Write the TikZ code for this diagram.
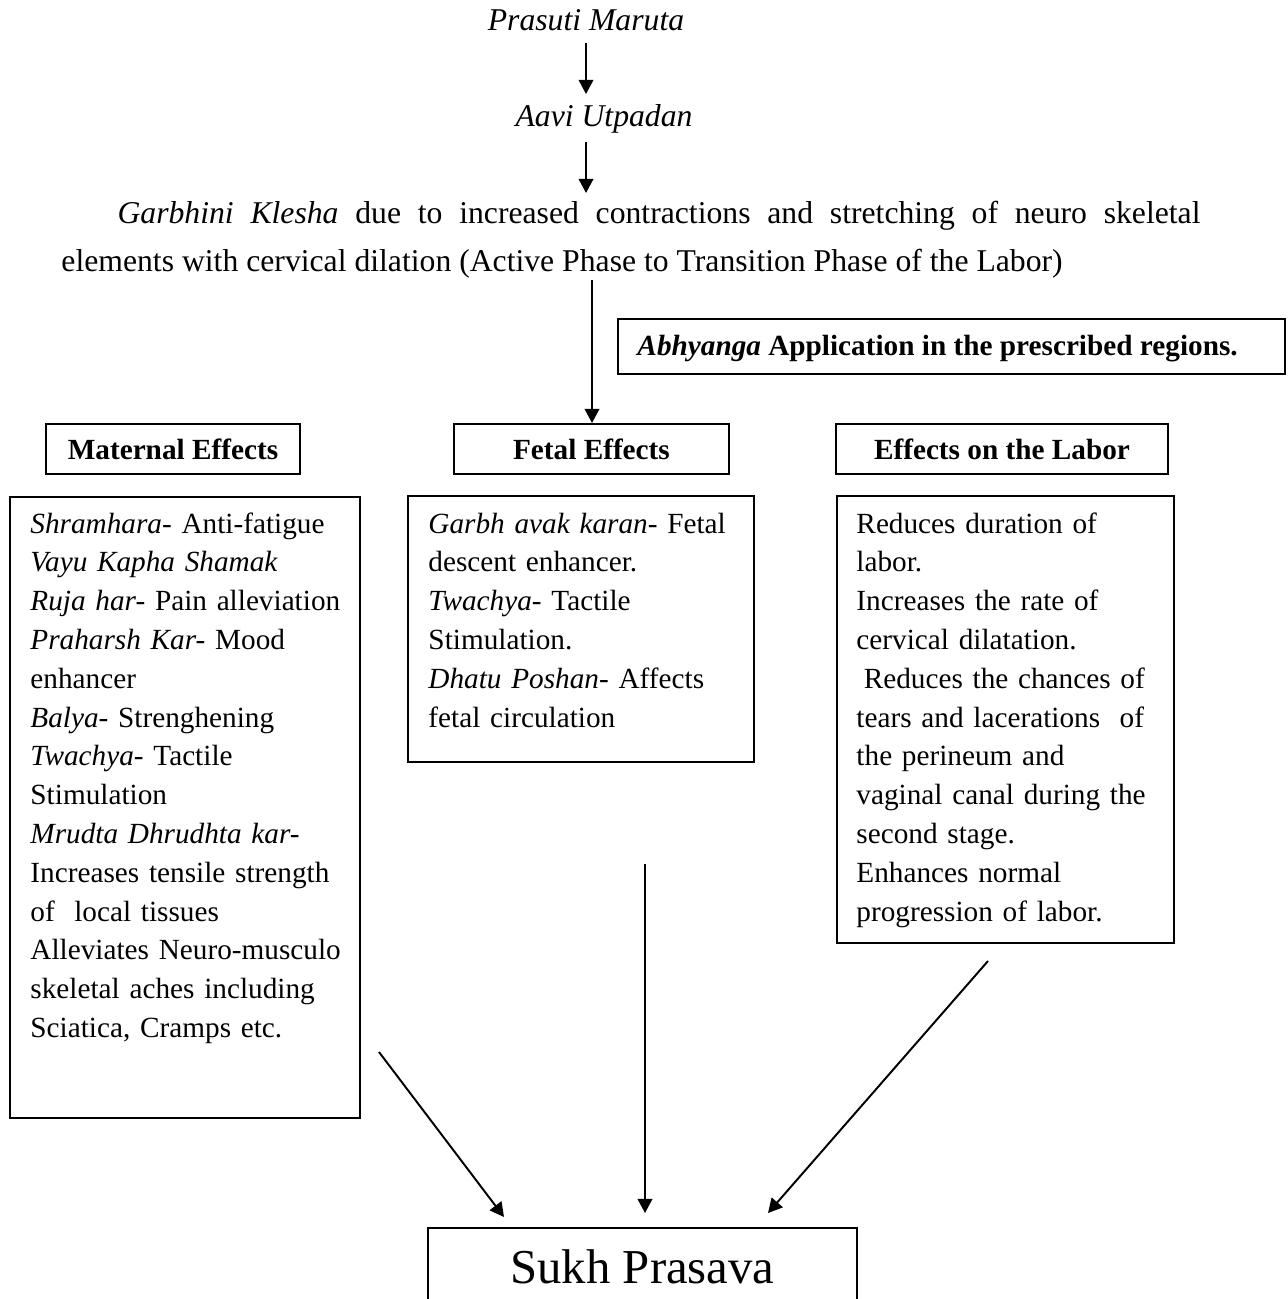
\documentclass[tikz,border=0pt]{standalone}
\usepackage{fontspec}
\setmainfont{Liberation Serif}
\usetikzlibrary{arrows.meta}
\begin{document}
\begin{tikzpicture}[x=0.41026pt,y=-0.41026pt,
  arr/.style={line width=0.8pt,-{Triangle[length=5.8pt,width=6pt]}},
  boxline/.style={draw,line width=0.8pt,inner sep=0pt},
  body/.style={font=\fontsize{12}{15.92}\selectfont, inner sep=0pt, align=left, text width=150pt, anchor=base west},
  headbox/.style={boxline, font=\fontsize{12}{14}\selectfont\bfseries, minimum height=20.5pt, anchor=north west},
  toptext/.style={font=\fontsize{13}{15.6}\selectfont\itshape, inner sep=0pt, anchor=base}]
\useasboundingbox (0,0) rectangle (1287,1299);
\clip (0,0) rectangle (1287,1299);
\fill[white] (0,0) rectangle (1287,1299);

% top chain
\node[toptext] (prasuti) at (586,31) {Prasuti Maruta};
\node[toptext] (aavi) at (604,127) {Aavi Utpadan};
\node[font=\fontsize{13}{19.7}\selectfont, inner sep=0pt, text width=467.3pt, align=justify, anchor=base west] (garb) at (61,223)
  {\hspace*{23pt}\textit{Garbhini Klesha} due to increased contractions and stretching of neuro skeletal\linebreak elements with cervical dilation (Active Phase to Transition Phase of the Labor)};

% Abhyanga box
\node[boxline, anchor=north west, minimum width=273.6pt, minimum height=22.56pt] (abhybox) at (617,318) {};
\node[font=\fontsize{12}{14}\selectfont\bfseries, inner sep=0pt, anchor=base west] (abhytext) at (637,355)
  {\textit{Abhyanga} Application in the prescribed regions.};

% headers
\node[headbox, minimum width=104.2pt] (mathead) at (45,423) {Maternal Effects};
\node[headbox, minimum width=112.8pt] (fethead) at (453,423) {Fetal Effects};
\node[headbox, minimum width=136.2pt] (labhead) at (835,423) {Effects on the Labor};

% content boxes
\node[boxline, anchor=north west, minimum width=143.6pt, minimum height=254.8pt] (matbox) at (9,496) {};
\node[boxline, anchor=north west, minimum width=141.95pt, minimum height=109.1pt] (fetbox) at (407,495) {};
\node[boxline, anchor=north west, minimum width=138.3pt, minimum height=183.4pt] (labbox) at (836,495) {};

\node[body] (mattext) at (30,533) {%
\textit{Shramhara-} Anti-fatigue\\
\textit{Vayu Kapha Shamak}\\
\textit{Ruja har-} Pain alleviation\\
\textit{Praharsh Kar-} Mood\\
enhancer\\
\textit{Balya-} Strenghening\\
\textit{Twachya-} Tactile\\
Stimulation\\
\textit{Mrudta Dhrudhta kar-}\\
Increases tensile strength\\
of\ \ local tissues\\
Alleviates Neuro-musculo\\
skeletal aches including\\
Sciatica, Cramps etc.};

\node[body] (fettext) at (428,533) {%
\textit{Garbh avak karan-} Fetal\\
descent enhancer.\\
\textit{Twachya-} Tactile\\
Stimulation.\\
\textit{Dhatu Poshan-} Affects\\
fetal circulation};

\node[body] (labtext) at (856,533) {%
Reduces duration of\\
labor.\\
Increases the rate of\\
cervical dilatation.\\
\hspace*{3pt}Reduces the chances of\\
tears and lacerations\ \ of\\
the perineum and\\
vaginal canal during the\\
second stage.\\
Enhances normal\\
progression of labor.};

% result
\node[boxline, anchor=north, minimum width=176pt, minimum height=32pt, font=\fontsize{20}{24}\selectfont] (sukh) at (642.5,1227) {Sukh Prasava};

% connectors
\coordinate (a1s) at (586,43);  \coordinate (a1e) at (586,94);
\coordinate (a2s) at (586,142); \coordinate (a2e) at (586,193);
\coordinate (a3s) at (592,280);
\coordinate (a4s) at (379,1052); \coordinate (a4e) at (504,1217);
\coordinate (a5s) at (645,864);  \coordinate (a5e) at (645,1213);
\coordinate (a6s) at (988,961);  \coordinate (a6e) at (768,1213);

\draw[arr] (a1s) -- (a1e);
\draw[arr] (a2s) -- (a2e);
\draw[arr] (a3s) -- (a3s |- fethead.north);
\draw[arr] (a4s) -- (a4e);
\draw[arr] (a5s) -- (a5e);
\draw[arr] (a6s) -- (a6e);
\end{tikzpicture}
\end{document}
